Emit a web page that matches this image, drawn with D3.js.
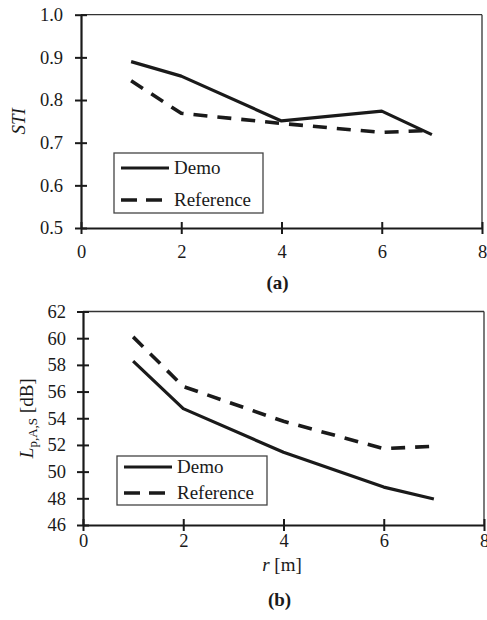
<!DOCTYPE html>
<html>
<head>
<meta charset="utf-8">
<script src="https://cdn.jsdelivr.net/npm/d3@7/dist/d3.min.js"></script>
</head>
<body style="margin:0; background:#fff">
<svg id="chart" width="487" height="620" style="display:block; font-family:'Liberation Serif', serif"></svg>
<script>
// Distance from source r [m]
const distances = [1, 2, 4, 6, 7];

// Panel (a): speech transmission index
const stiDemo = [0.890, 0.856, 0.751, 0.774, 0.719];
const stiReference = [0.845, 0.769, 0.745, 0.724, 0.729];

// Panel (b): A-weighted sound pressure level [dB]
const splDemo = [58.28, 54.72, 51.45, 48.84, 47.95];
const splReference = [60.10, 56.38, 53.77, 51.72, 51.90];

const xTicks = [0, 2, 4, 6, 8];
const stiTicks = [0.5, 0.6, 0.7, 0.8, 0.9, 1.0];
const splTicks = [46, 48, 50, 52, 54, 56, 58, 60, 62];
const seriesNames = ["Demo", "Reference"];

const svg = d3.select("#chart");
const INK = "#1a1a1a";
const FONT = "'Liberation Serif', serif";
const DASH = "14,10";

function styleText(sel, size) {
  return sel.attr("font-family", null).attr("font-size", null)
    .style("font-family", FONT).style("font-size", size + "px").style("fill", INK);
}

function panel(cfg) {
  const x = d3.scaleLinear().domain([0, 8]).range([cfg.left, cfg.right]);
  const y = d3.scaleLinear().domain(cfg.yDomain).range([cfg.bottom, cfg.top]);
  const g = svg.append("g");

  // frame: thin top/right edges
  g.append("line").attr("x1", cfg.left).attr("x2", cfg.right)
    .attr("y1", cfg.top).attr("y2", cfg.top)
    .attr("stroke", "#333").attr("stroke-width", 1.3);
  g.append("line").attr("x1", cfg.right).attr("x2", cfg.right)
    .attr("y1", cfg.top).attr("y2", cfg.bottom)
    .attr("stroke", "#333").attr("stroke-width", 1.3);

  // y axis with ticks crossing the spine
  const ya = g.append("g").attr("transform", `translate(${cfg.left},0)`)
    .call(d3.axisLeft(y).tickValues(cfg.yTicks).tickFormat(cfg.yFormat)
      .tickSize(6).tickPadding(cfg.yPad));
  styleText(ya, 18.5);
  ya.select(".domain").attr("stroke", INK).attr("stroke-width", 2.2)
    .attr("d", `M0.5,${cfg.bottom}V${cfg.top}`);
  ya.selectAll(".tick line").attr("x1", -6).attr("x2", 6)
    .attr("stroke", INK).attr("stroke-width", 2);
  styleText(ya.selectAll(".tick text"), 18.5);

  // x axis
  const xa = g.append("g").attr("transform", `translate(0,${cfg.bottom})`)
    .call(d3.axisBottom(x).tickValues(xTicks).tickFormat(d3.format("d"))
      .tickSize(6).tickPadding(cfg.xPad));
  styleText(xa, 18.5);
  xa.select(".domain").attr("stroke", INK).attr("stroke-width", 2.2)
    .attr("d", `M${cfg.left},0.5H${cfg.right}`);
  xa.selectAll(".tick line").attr("y1", -6).attr("y2", 6)
    .attr("stroke", INK).attr("stroke-width", 2);
  styleText(xa.selectAll(".tick text"), 18.5);

  // series
  const line = d3.line().x((d, i) => x(distances[i])).y(d => y(d));
  g.append("path").datum(cfg.demo).attr("d", line)
    .attr("fill", "none").attr("stroke", INK).attr("stroke-width", 3.2)
    .attr("stroke-linejoin", "round");
  g.append("path").datum(cfg.reference).attr("d", line)
    .attr("fill", "none").attr("stroke", INK).attr("stroke-width", 3.6)
    .attr("stroke-dasharray", DASH);

  // legend
  const L = cfg.legend;
  g.append("rect").attr("x", L.x).attr("y", L.y).attr("width", L.w).attr("height", L.h)
    .attr("fill", "#fff").attr("stroke", "#444").attr("stroke-width", 1.3);
  seriesNames.forEach((name, i) => {
    const ly = L.y + L.rows[i];
    g.append("line").attr("x1", L.x + 7).attr("x2", L.x + 55)
      .attr("y1", ly).attr("y2", ly)
      .attr("stroke", INK).attr("stroke-width", i === 0 ? 3.2 : 3.6)
      .attr("stroke-dasharray", i === 0 ? null : "16,9");
    styleText(g.append("text").attr("x", L.x + 60).attr("y", ly + 6), 19).text(name);
  });

  // panel tag
  styleText(g.append("text").attr("x", (cfg.left + cfg.right) / 2 - 4).attr("y", cfg.tagY)
    .attr("text-anchor", "middle"), 19).style("font-weight", "bold")
    .text(cfg.tag);

  return { g, x, y };
}

// (a) STI
const a = panel({
  left: 81, right: 482, top: 14.7, bottom: 228,
  yDomain: [0.5, 1.0], yTicks: stiTicks, yFormat: d3.format(".1f"), yPad: 12, xPad: 11,
  demo: stiDemo, reference: stiReference,
  legend: { x: 114, y: 153, w: 149, h: 60, rows: [15, 47] },
  tag: "(a)", tagY: 289
});
styleText(a.g.append("text")
  .attr("transform", `translate(25,${(14.7 + 228) / 2}) rotate(-90)`)
  .attr("text-anchor", "middle"), 19).style("font-style", "italic")
  .text("STI");

// (b) sound pressure level
const b = panel({
  left: 83, right: 484, top: 311.5, bottom: 525,
  yDomain: [46, 62], yTicks: splTicks, yFormat: d3.format("d"), yPad: 11, xPad: 3,
  demo: splDemo, reference: splReference,
  legend: { x: 117, y: 456, w: 150, h: 49, rows: [11, 37] },
  tag: "(b)", tagY: 606
});
const yl = styleText(b.g.append("text")
  .attr("transform", `translate(33,${(311.5 + 525) / 2}) rotate(-90)`)
  .attr("text-anchor", "middle"), 19);
yl.append("tspan").style("font-style", "italic").text("L");
yl.append("tspan").style("font-size", "13px").attr("dy", 4).text("p,A,S");
yl.append("tspan").attr("dy", -4).text(" [dB]");

const xl = styleText(b.g.append("text")
  .attr("x", 282).attr("y", 571)
  .attr("text-anchor", "middle"), 19);
xl.append("tspan").style("font-style", "italic").text("r");
xl.append("tspan").text(" [m]");
</script>
</body>
</html>
